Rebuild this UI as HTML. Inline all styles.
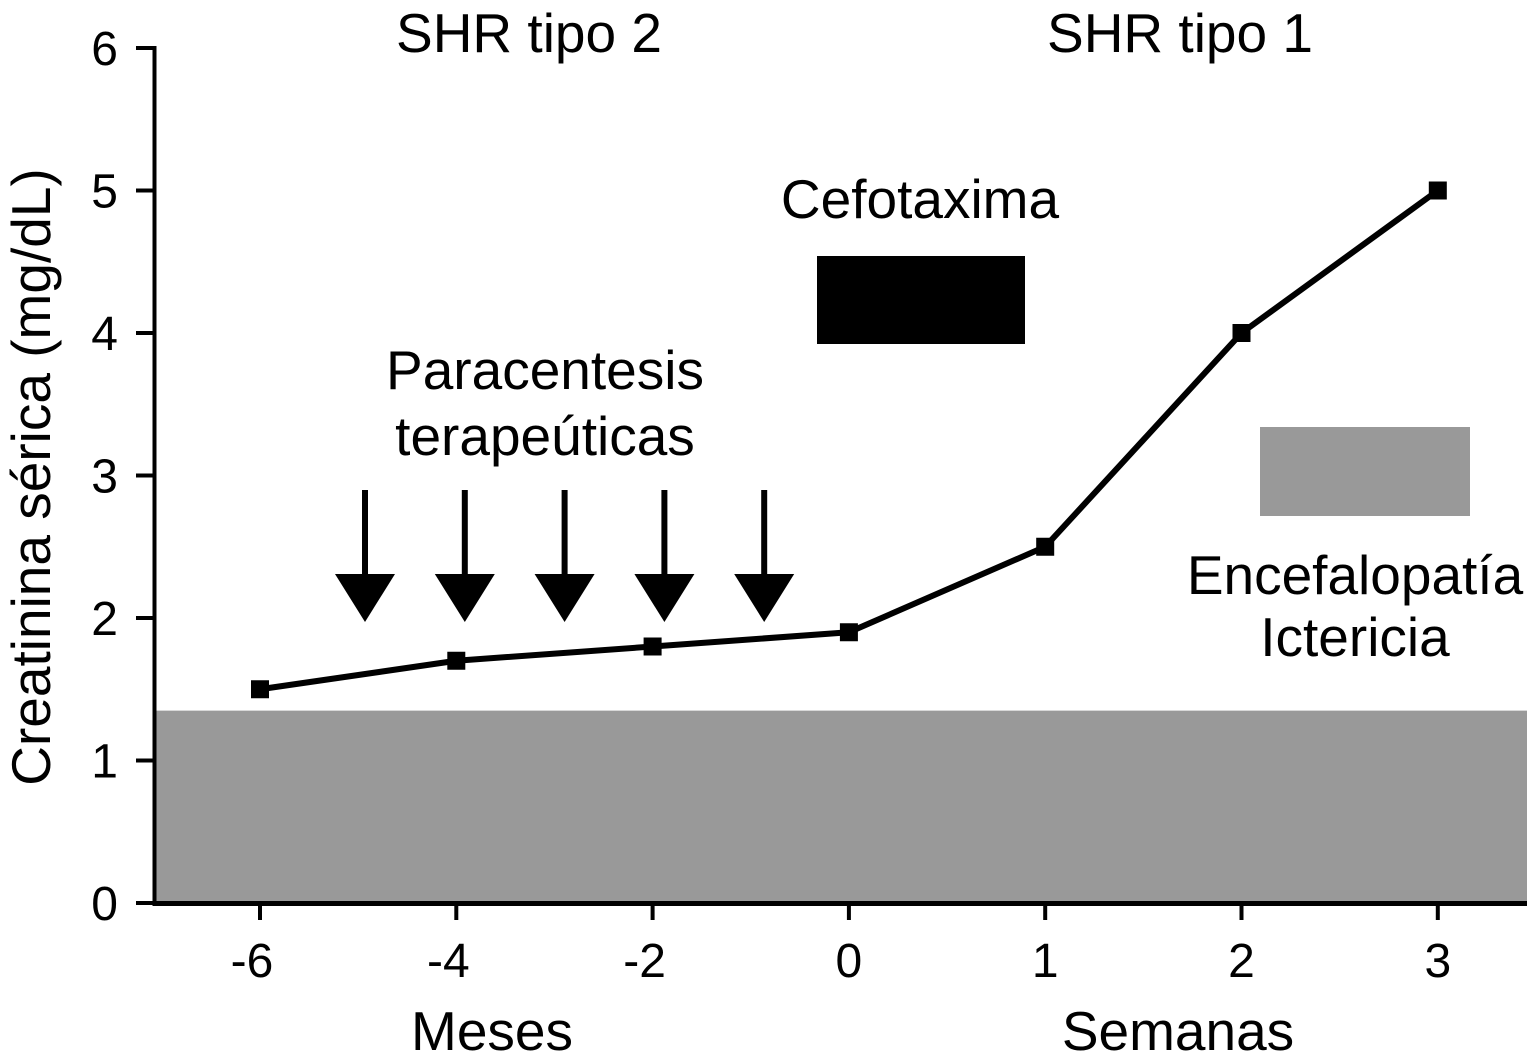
<!DOCTYPE html>
<html><head><meta charset="utf-8"><style>
html,body{margin:0;padding:0;background:#fff}
svg{display:block}
text{font-family:"Liberation Sans",Arial,sans-serif;fill:#000}
</style></head><body>
<svg id="chart" width="1535" height="1062" viewBox="0 0 1535 1062">
<g id="bg"></g>
<g id="axes"></g>
<g id="marks"></g>
<g id="labels"></g>
</svg>
<script>
const categories = ["-6","-4","-2","0","1","2","3"];
const values = [1.5, 1.7, 1.8, 1.9, 2.5, 4.0, 5.0];
const yTicks = [0,1,2,3,4,5,6];
const arrowPositions = [-5, -4, -3, -2, -1];
const NS = "http://www.w3.org/2000/svg";
const x0 = 260, xStep = 196.3;
function xScale(i){ return x0 + i * xStep; }
function yScale(v){ return 903 - v * 142.5; }
function mk(tag, attrs, parent){
  const e = document.createElementNS(NS, tag);
  for (const k in attrs) e.setAttribute(k, attrs[k]);
  parent.appendChild(e); return e;
}
const bg = document.getElementById('bg'), axes = document.getElementById('axes'),
      marks = document.getElementById('marks'), labels = document.getElementById('labels');

let band = mk('rect', {x:156, y:yScale(1.35), width:1371, height:yScale(0)-yScale(1.35), fill:'#999999'}, bg);


let cef = mk('rect', {x:817, y:256, width:208, height:88, fill:'#000'}, bg);


let enc = mk('rect', {x:1260, y:427, width:210, height:89, fill:'#999999'}, bg);



let ya = mk('line', {x1:154.5, y1:46, x2:154.5, y2:906, stroke:'#000', 'stroke-width':4}, axes);


let xa = mk('line', {x1:153, y1:903.5, x2:1527, y2:903.5, stroke:'#000', 'stroke-width':5}, axes);


yTicks.forEach(t => {
  const y = yScale(t);
  let tk = mk('line', {x1:136, y1:y, x2:155, y2:y, stroke:'#000', 'stroke-width':4}, axes);
  
  
  let lb = mk('text', {x:118, y:y+17, 'font-size':48, 'text-anchor':'end'}, axes);
  lb.textContent = t;
  
  
});
categories.forEach((c, i) => {
  const x = xScale(i);
  let tk = mk('line', {x1:x, y1:903, x2:x, y2:920, stroke:'#000', 'stroke-width':4}, axes);
  
  
  let lb = mk('text', {x:x - (c.startsWith('-') ? 8 : 0), y:977, 'font-size':48, 'text-anchor':'middle'}, axes);
  lb.textContent = c;
  
  
});

arrowPositions.forEach(p => {
  const x = 365 + (p + 5) * 99.8;
  let g = mk('g', {}, marks);
  
  
  mk('line', {x1:x, y1:490, x2:x, y2:580, stroke:'#000', 'stroke-width':6}, g);
  mk('polygon', {points:`${x-30},574 ${x+30},574 ${x},622`, fill:'#000'}, g);
});

const pts = values.map((v, i) => `${xScale(i)},${yScale(v)}`).join(' ');
let ln = mk('polyline', {points:pts, fill:'none', stroke:'#000', 'stroke-width':6, 'stroke-linejoin':'round'}, marks);


values.forEach((v, i) => {
  let m = mk('rect', {x:xScale(i)-9, y:yScale(v)-9, width:18, height:18, fill:'#000'}, marks);
  
  
});

const texts = [
  ['y-axis-title', 'Creatinina sérica (mg/dL)', 0, 0, 'middle'],
  ['shr-tipo-2-label', 'SHR tipo 2', 529, 52, 'middle'],
  ['shr-tipo-1-label', 'SHR tipo 1', 1180, 52, 'middle'],
  ['cefotaxima-label', 'Cefotaxima', 920, 218, 'middle'],
  ['paracentesis-label', 'Paracentesis', 545, 389, 'middle'],
  ['terapeuticas-label', 'terapeúticas', 545, 455, 'middle'],
  ['encefalopatia-label', 'Encefalopatía', 1355, 594, 'middle'],
  ['ictericia-label', 'Ictericia', 1355, 656, 'middle'],
  ['meses-label', 'Meses', 492, 1050, 'middle'],
  ['semanas-label', 'Semanas', 1178, 1050, 'middle']
];
texts.forEach(([n, t, x, y, a]) => {
  let e;
  if (n === 'y-axis-title') {
    e = mk('text', {x:0, y:0, 'font-size':55, 'text-anchor':'middle', transform:'translate(50,477) rotate(-90)'}, labels);
  } else {
    e = mk('text', {x:x, y:y, 'font-size':55, 'text-anchor':a}, labels);
  }
  e.textContent = t;
  
  
});
</script>
</body></html>
